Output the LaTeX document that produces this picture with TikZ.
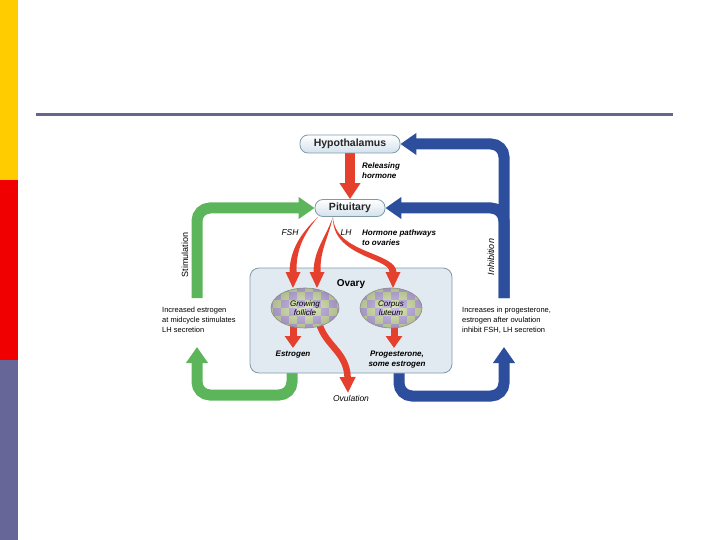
\documentclass[tikz,border=0pt]{standalone}
\usepackage{fontspec}
\setmainfont{Liberation Sans}
\usetikzlibrary{arrows.meta,calc,shapes.geometric}
\definecolor{hred}{HTML}{E5402D}
\definecolor{hgreen}{HTML}{5DB55B}
\definecolor{hblue}{HTML}{2C4E9C}
\definecolor{barY}{HTML}{FFCC00}
\definecolor{barR}{HTML}{F00000}
\definecolor{barB}{HTML}{666699}
\definecolor{rulecol}{HTML}{66668A}
\definecolor{boxfill}{HTML}{E2EAF1}
\definecolor{boxedge}{HTML}{7E9AA9}
\definecolor{organfill}{HTML}{D3E1EC}
\definecolor{lav}{HTML}{BCA9E4}
\definecolor{ygreen}{HTML}{D3E2A4}
\pgfdeclarelayer{back}
\pgfdeclarelayer{mid}
\pgfsetlayers{back,mid,main}
\newcommand\hormarrow[6]{%
  \fill[hred] (#1) .. controls ($(#2)+(#3)$) and ($(#4)+(#5)$) .. ($(#6)+(-3.5,0)$)
    -- ($(#6)+(-7.5,0)$) -- ($(#6)+(0,16)$) -- ($(#6)+(7.5,0)$) -- ($(#6)+(3.5,0)$)
    .. controls ($(#4)-(#5)$) and ($(#2)-(#3)$) .. (#1) -- cycle;}
\begin{document}
\begin{tikzpicture}[x=1pt,y=-1pt,
  organ/.style={draw=boxedge, line width=0.8pt, rounded corners=8pt, top color=white, bottom color=organfill,
    font=\fontsize{10.5}{12}\selectfont\bfseries, text=black!85, inner sep=0pt},
  ovarybox/.style={draw=boxedge, line width=0.8pt, rounded corners=9pt, fill=boxfill, inner sep=0pt},
  cell/.style={ellipse, draw=black!45, line width=0.6pt, inner sep=0pt, fill=ygreen, align=center,
    font=\fontsize{8}{9.5}\selectfont\itshape,
    path picture={
      \foreach \i in {-5,...,4}{\foreach \j in {-3,...,2}{
        \pgfmathtruncatemacro\k{mod(\i+\j+20,2)}
        \ifnum\k=0 \fill[lav] ($(path picture bounding box.center)+(\i*8,\j*8)$) rectangle ++(8,8); \fi}}
      \shade[inner color=white, outer color=black!70, opacity=0.25] (path picture bounding box.center) ellipse [x radius=34, y radius=20];
    }},
  lab/.style={font=\fontsize{8.5}{10}\selectfont\itshape, inner sep=0pt, align=left},
  blab/.style={font=\fontsize{8}{10}\selectfont\bfseries\itshape, inner sep=0pt, align=left},
  side/.style={font=\fontsize{7.5}{10}\selectfont, inner sep=0pt, align=left, anchor=west},
  fat/.style={line width=11pt, rounded corners=13pt, -{Triangle[width=21pt,length=16pt]}},
  redshaft/.style={draw=hred, -{Triangle[width=16pt,length=12pt]}, line width=7pt}
]
\useasboundingbox (0,0) rectangle (720,540);
% slide decorations
\fill[barY] (0,0) rectangle (18,180);
\fill[barR] (0,180) rectangle (18,360);
\fill[barB] (0,360) rectangle (18,540);
\fill[rulecol] (36,113) rectangle (673,116);

% glands
\node[organ, minimum width=100pt, minimum height=18pt] (hyp) at (350,144) {Hypothalamus};
\node[organ, minimum width=70pt, minimum height=17pt] (pit) at (350,208) {Pituitary};

\coordinate (gtop) at (197,298);
\coordinate (gstart) at (292,370);
\coordinate (gtip) at (197,347);
\coordinate (btop) at (504,298);
\coordinate (bstart) at (399,370);
\coordinate (btip) at (504,347);

\begin{pgfonlayer}{back}
  \draw[fat, hgreen] (gtop) -- (197,208) -- (pit.west);
  \draw[fat, hgreen] (gstart) -- (292,395) -- (197,395) -- (gtip);
  \draw[fat, hblue] (btop) -- (504,144) -- (hyp.east);
  \draw[fat, hblue] (btop) -- (504,208) -- (pit.east);
  \draw[fat, hblue] (bstart) -- (399,396) -- (504,396) -- (btip);
  \node[ovarybox, minimum width=202pt, minimum height=105pt] (ovary) at (351,320.5) {};
\end{pgfonlayer}

% cells
\node[cell, minimum width=68pt, minimum height=40pt] (fol) at (305,308) {Growing\\follicle};
\node[cell, minimum width=62pt, minimum height=40pt] (cl) at (391,308) {Corpus\\luteum};

\coordinate (estr) at (293,348);
\coordinate (prog) at (394,348);
\coordinate (ovul) at (348,393);

\begin{pgfonlayer}{mid}
  \draw[draw=hred, line width=10pt, -{Triangle[width=20pt,length=16pt]}] (hyp.south) -- (pit.north);
  % FSH
  \hormarrow{$(pit.south)+(-32,0)$}{302,234}{-1,-1}{293,250}{-3,-0.5}{293,272}
  % LH to follicle
  \hormarrow{$(pit.south)+(-17,0)$}{326,240}{-1.4,-0.4}{317,250}{-3,-0.3}{317,272}
  % LH to corpus luteum
  \hormarrow{$(pit.south)+(-17,0)$}{333,255}{-1.5,1.5}{393,255}{-3,3}{393,272}
  % outputs
  \draw[redshaft] (293,322) -- (estr);
  \draw[redshaft] (394,322) -- (prog);
  \draw[draw=hred, line width=6.5pt, -{Triangle[width=15pt,length=16pt]}] (318,318) .. controls (322,345) and (347,350) .. (ovul);
\end{pgfonlayer}

% labels
\node[blab, anchor=west] (rel) at (362,170.5) {Releasing\\hormone};
\node[lab] (fsh) at (290,233) {FSH};
\node[lab] (lh) at (346,233) {LH};
\node[blab, anchor=west] (path) at (362,238) {Hormone pathways\\to ovaries};
\node[font=\fontsize{10}{12}\selectfont\bfseries, inner sep=0pt] (ovl) at (351,284) {Ovary};
\node[blab] (estrl) at (293,355) {Estrogen};
\node[blab, align=center] (progl) at (397,360) {Progesterone,\\some estrogen};
\node[lab] (ovull) at (351,398) {Ovulation};
\node[side] (stimtxt) at (162,320) {Increased estrogen\\at midcycle stimulates\\LH secretion};
\node[side] (inhtxt) at (462,320) {Increases in progesterone,\\estrogen after ovulation\\inhibit FSH, LH secretion};
\node[font=\fontsize{9}{10}\selectfont, rotate=90, inner sep=0pt] (stim) at (185,255) {Stimulation};
\node[font=\fontsize{9}{10}\selectfont\itshape, rotate=90, inner sep=0pt] (inh) at (491,257) {Inhibition};
\end{tikzpicture}
\end{document}
